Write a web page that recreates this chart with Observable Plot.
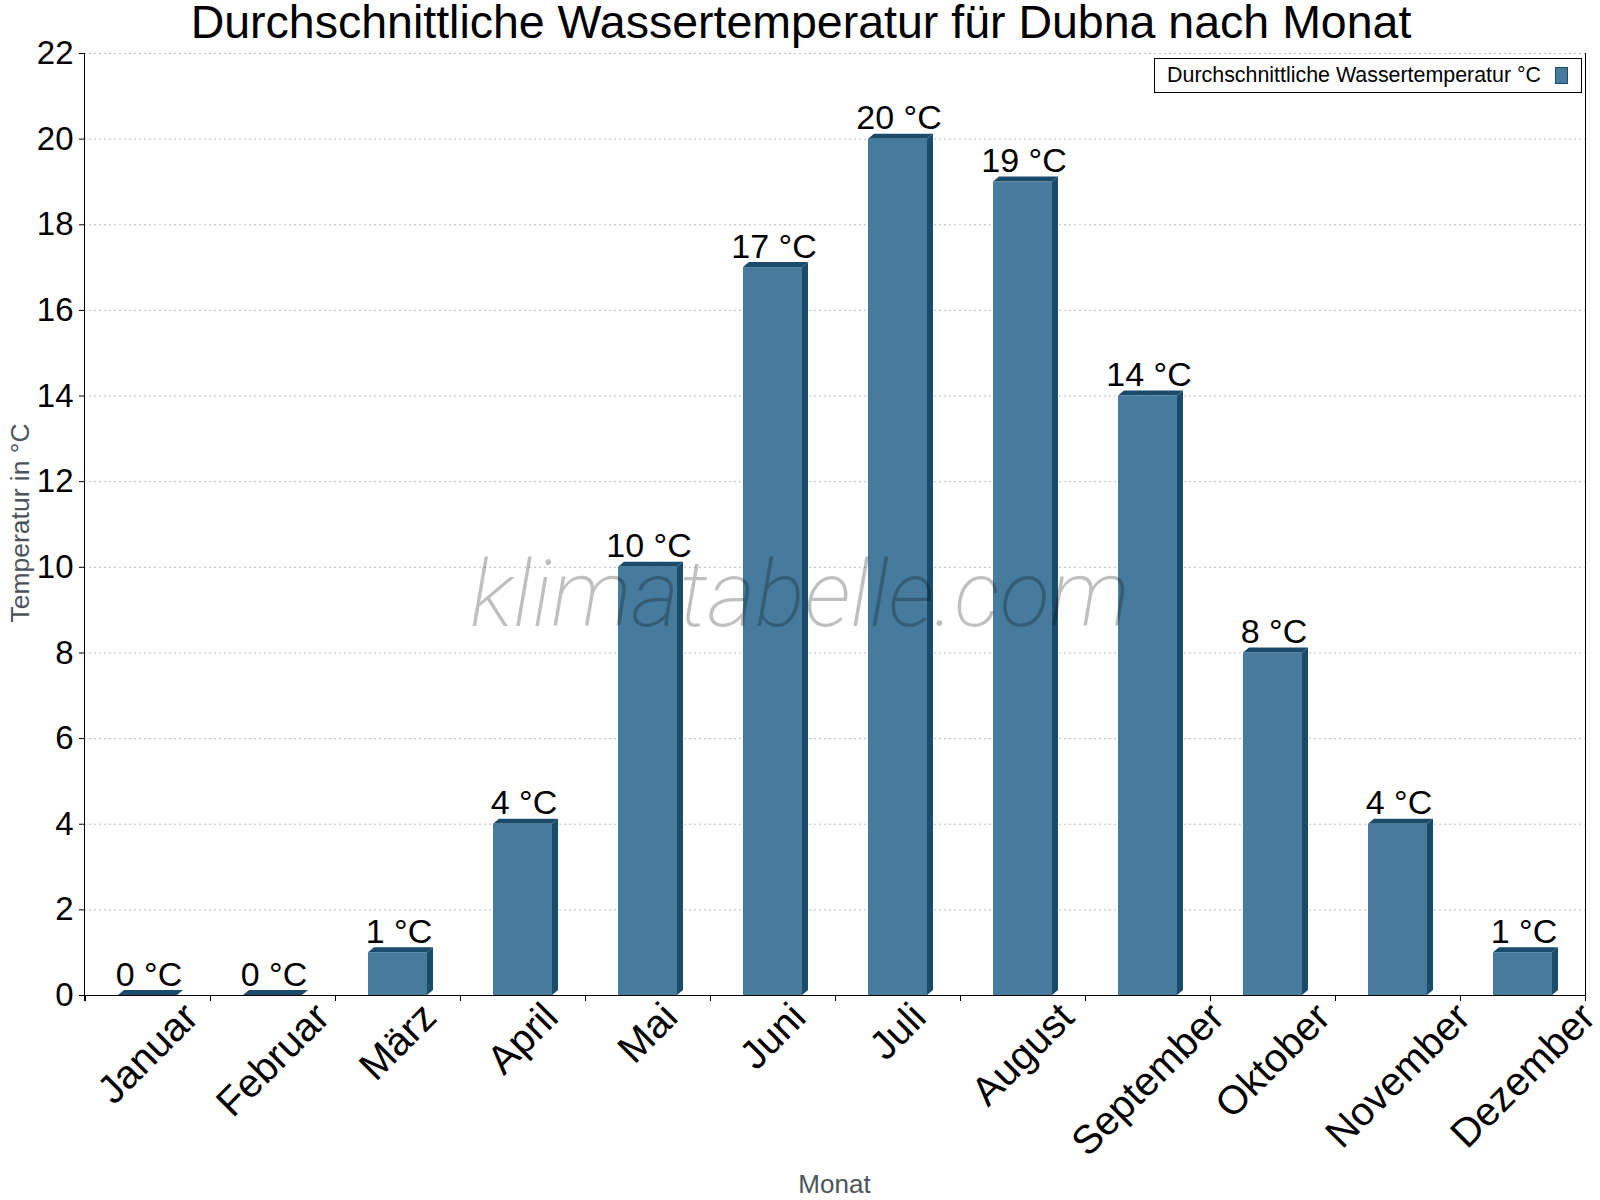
<!DOCTYPE html>
<html><head><meta charset="utf-8">
<script src="https://cdn.jsdelivr.net/npm/d3@7"></script>
<script src="https://cdn.jsdelivr.net/npm/@observablehq/plot@0.6"></script>
<style>html,body{margin:0;padding:0;background:#fff}</style>
</head><body><div id="chart"></div>
<script>
const months = ["Januar","Februar","März","April","Mai","Juni","Juli","August","September","Oktober","November","Dezember"];
const temps = [0,0,1,4,10,17,20,19,14,8,4,1];
const valueLabels = temps.map(t => `${t} °C`);
const yTicks = [0,2,4,6,8,10,12,14,16,18,20,22];
const titleText = "Durchschnittliche Wassertemperatur für Dubna nach Monat";
const seriesName = "Durchschnittliche Wassertemperatur °C";
const yTitle = "Temperatur in °C";
const xTitle = "Monat";
const watermarkText = "klimatabelle.com";

const data = months.map((m, i) => ({month: m, temp: temps[i], label: valueLabels[i]}));

const FONT = "'Liberation Sans', Arial, sans-serif";
const FRONT = "#467b9d", DARK = "#1b4b6b";
const DEPTH_X = 6, DEPTH_Y = 5;
const W = 1600, H = 1200, ML = 84, MR = 15, MT = 53, MB = 205;
const XL_SIZE = 40;

const ctx = document.createElement("canvas").getContext("2d");
function textWidth(s, size) { ctx.font = `${size}px 'Liberation Sans', Arial, sans-serif`; return ctx.measureText(s).width; }
function bandInfo(x) {
  const bw = typeof x.bandwidth === "function" ? x.bandwidth() : x.bandwidth;
  const st = typeof x.step === "function" ? x.step() : x.step;
  return {bw, st};
}

function faces(index, scales) {
  const {x, y} = scales; const {bw} = bandInfo(x);
  const g = d3.create("svg:g");
  const yb = y(0);
  for (const d of data) {
    const x0 = x(d.month), x1 = x0 + bw, yt = y(d.temp);
    g.append("polygon").attr("points", [[x0, yt], [x0 + DEPTH_X, yt - DEPTH_Y], [x1 + DEPTH_X, yt - DEPTH_Y], [x1, yt]].join(" ")).attr("fill", DARK);
    if (yb > yt) g.append("polygon").attr("points", [[x1, yt], [x1 + DEPTH_X, yt - DEPTH_Y], [x1 + DEPTH_X, yb - DEPTH_Y], [x1, yb]].join(" ")).attr("fill", DARK);
  }
  return g.node();
}

function axes(index, scales, values, dims) {
  const {x, y} = scales; const {bw, st} = bandInfo(x);
  const g = d3.create("svg:g").attr("stroke", "black").attr("stroke-width", 1).attr("shape-rendering", "crispEdges");
  const y0 = y(0), yTop = y(22);
  const left = dims.marginLeft, right = dims.width - dims.marginRight;
  g.append("line").attr("x1", left).attr("x2", left).attr("y1", yTop).attr("y2", y0 + 6);
  g.append("line").attr("x1", right).attr("x2", right).attr("y1", yTop).attr("y2", y0 + 6);
  g.append("line").attr("x1", left).attr("x2", right).attr("y1", y0).attr("y2", y0);
  for (const m of months) {
    const bx = x(m) + bw / 2 - st / 2;
    g.append("line").attr("x1", bx).attr("x2", bx).attr("y1", y0).attr("y2", y0 + 6);
  }
  return g.node();
}

function decorations(index, scales, values, dims) {
  const g = d3.create("svg:g").attr("font-family", FONT);
  const cx = dims.marginLeft + (dims.width - dims.marginLeft - dims.marginRight) / 2;
  const cy = dims.marginTop + (dims.height - dims.marginTop - dims.marginBottom) / 2;
  // title
  g.append("text").attr("x", dims.width / 2 + 1).attr("y", 38).attr("text-anchor", "middle")
    .attr("font-size", 46.5).attr("fill", "black").text(titleText);
  // y title
  g.append("text").attr("transform", `translate(29,${cy - 1}) rotate(-90)`).attr("text-anchor", "middle")
    .attr("font-size", 26.5).attr("fill", "#4b545c").text(yTitle);
  // x title
  g.append("text").attr("x", cx).attr("y", 1193).attr("text-anchor", "middle")
    .attr("font-size", 26).attr("fill", "#4b545c").text(xTitle);
  // legend
  const right = dims.width - dims.marginRight;
  const lg = g.append("g");
  lg.append("rect").attr("x", 1154.5).attr("y", 58.5).attr("width", right - 4 - 1154).attr("height", 34)
    .attr("fill", "white").attr("stroke", "black").attr("stroke-width", 1);
  lg.append("text").attr("x", 1541).attr("y", 82).attr("text-anchor", "end").attr("font-size", 21.4)
    .attr("fill", "black").text(seriesName);
  lg.append("rect").attr("x", 1555.5).attr("y", 67.5).attr("width", 12).attr("height", 16)
    .attr("fill", FRONT).attr("stroke", DARK).attr("stroke-width", 1);
  return g.node();
}

function watermark(index, scales, values, dims) {
  return d3.create("svg:text").attr("x", dims.width / 2).attr("y", 626).attr("text-anchor", "middle")
    .attr("font-family", "Roboto, 'Open Sans', sans-serif").attr("font-style", "italic").attr("font-weight", 200)
    .attr("font-size", 92.5).attr("fill", "black").attr("fill-opacity", 0.25).text(watermarkText).node();
}

const xLabelMarks = months.map(m => Plot.text([m], {
  x: d => d, frameAnchor: "bottom", text: d => d,
  textAnchor: "end", lineAnchor: "top", rotate: -45,
  fontSize: XL_SIZE, fill: "black",
  dx: 0.354 * textWidth(m, XL_SIZE) - 11, dy: 4
}));

const chart = Plot.plot({
  width: W, height: H,
  marginLeft: ML, marginRight: MR, marginTop: MT, marginBottom: MB,
  style: {fontFamily: FONT, background: "white", color: "black"},
  x: {domain: months, paddingInner: 0.528, paddingOuter: 0.264, axis: null},
  y: {domain: [0, 22], axis: null},
  marks: [
    Plot.gridY(yTicks.filter(t => t > 0), {stroke: "#bdbdbd", strokeOpacity: 1, strokeDasharray: "2,3"}),
    Plot.axisY(yTicks, {tickSize: 5, tickPadding: 6, fontSize: 33, label: null}),
    faces,
    Plot.barY(data, {x: "month", y: "temp", fill: FRONT}),
    axes,
    ...xLabelMarks,
    watermark,
    Plot.text(data, {x: "month", y: "temp", text: "label", dy: -10, dx: 1, lineAnchor: "bottom", fontSize: 34, fill: "black"}),
    decorations
  ]
});
document.getElementById("chart").append(chart);
</script>
</body></html>
